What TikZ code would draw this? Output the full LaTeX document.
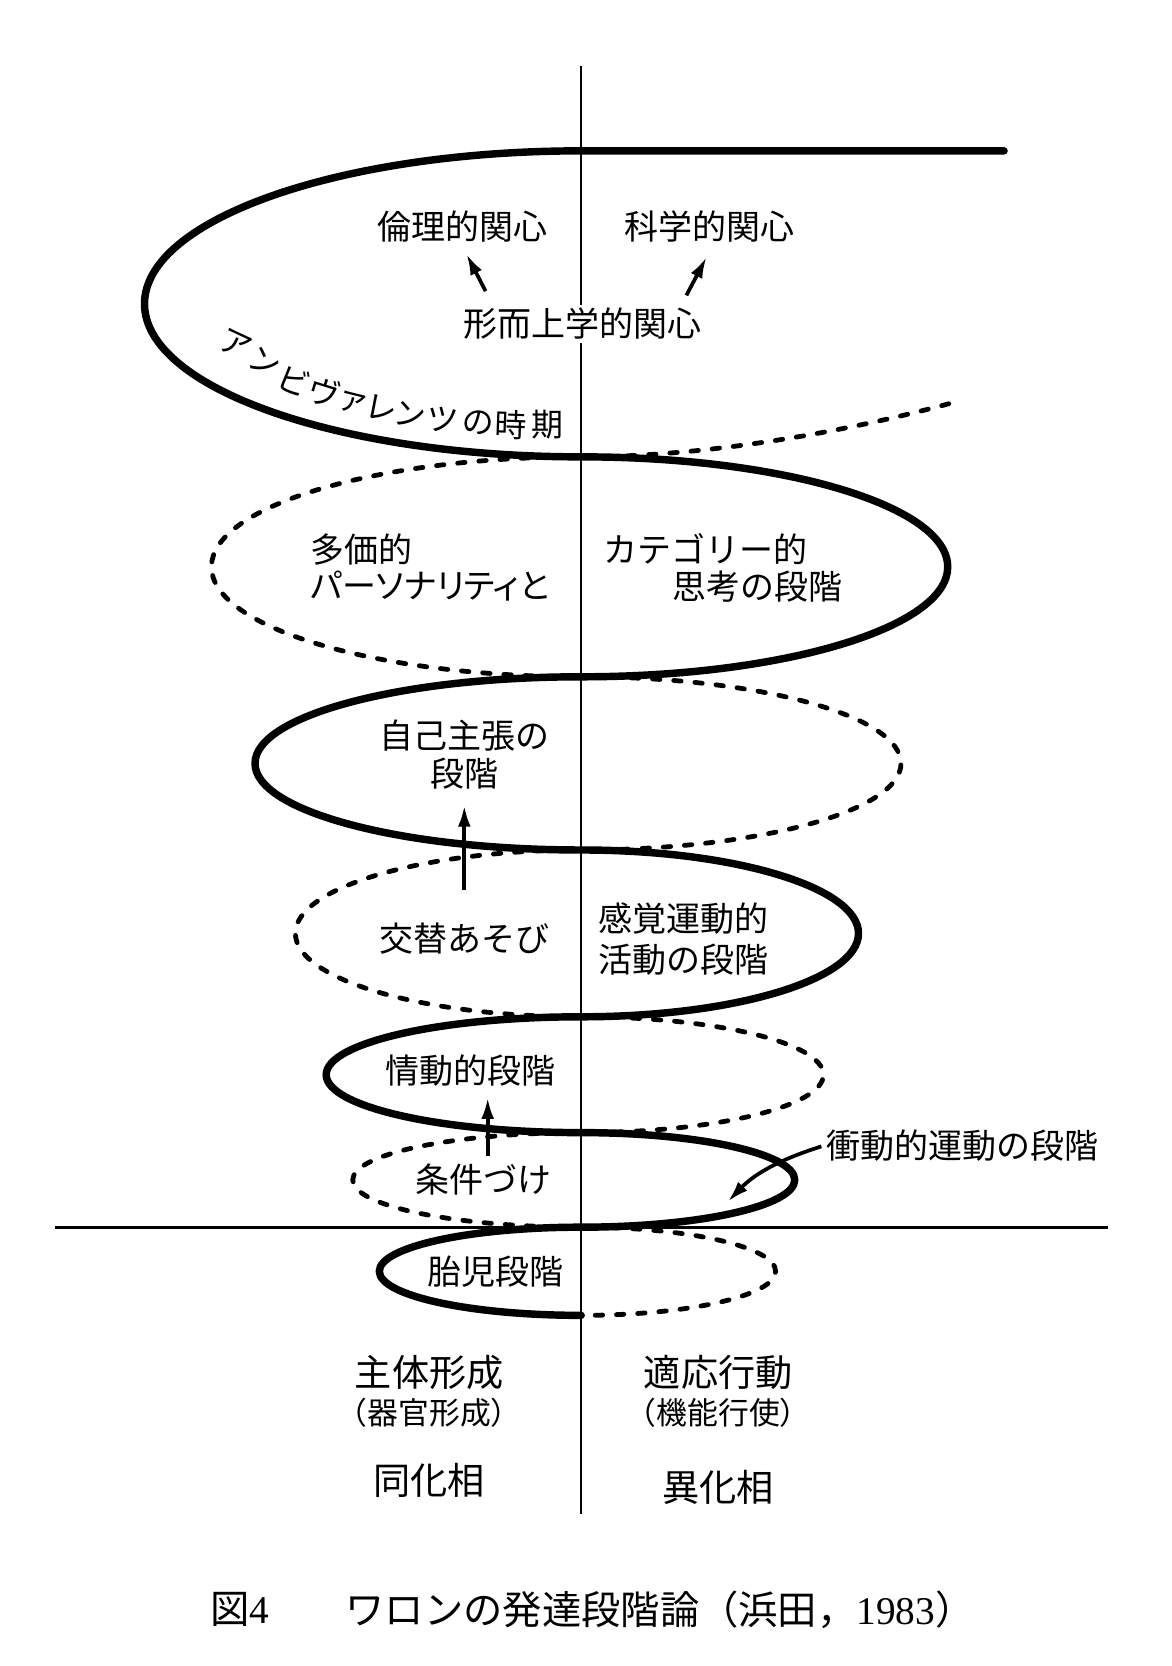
\documentclass[tikz,border=0pt]{standalone}
\usepackage{fontspec}
\setmainfont{Liberation Serif}
\newfontfamily\cjk{Noto Sans CJK JP}
\newfontfamily\cjkp[RawFeature=+palt]{Noto Sans CJK JP}
\usetikzlibrary{arrows.meta}
\begin{document}
\begin{tikzpicture}[x=1pt,y=1pt,
  front/.style={line width=7pt,line cap=round,line join=round},
  back/.style={line width=4.5pt,line cap=round,dash pattern=on 7pt off 13pt},
  lbl/.style={font=\cjk\fontsize{32}{38}\selectfont,inner sep=0pt},
  amb/.style={font=\cjkp\fontsize{30}{36}\selectfont,inner sep=0pt},
  big/.style={font=\cjk\fontsize{35}{40}\selectfont,inner sep=0pt},
  small/.style={font=\cjk\fontsize{29}{34}\selectfont,inner sep=0pt},
  capt/.style={font=\cjk\fontsize{37}{42}\selectfont,inner sep=0pt,anchor=west},
  arr/.style={line width=3.5pt,-{Latex[length=20pt,width=12pt]}},
  axisv/.style={line width=2pt},
  axish/.style={line width=3pt},
]
\fill[white] (0,0) rectangle (1103,1568);
\useasboundingbox (0,0) rectangle (1103,1568);

% axes
\coordinate (vtop) at (547,1506);
\coordinate (vbot) at (547,143);
\coordinate (hleft) at (52,413);
\coordinate (hright) at (1043,413);
\draw[axisv] (vtop) -- (vbot);
\draw[axish] (hleft) -- (hright);

% back (dashed) half of the spiral
\coordinate (dstart) at (893,1188);
\coordinate (c1) at (547,1138);
\draw[back] (dstart) .. controls (790,1160) and (660,1138) .. (c1)
  arc[start angle=90,end angle=270,x radius=348,y radius=103.5]
  arc[start angle=90,end angle=-90,x radius=301,y radius=81.5]
  arc[start angle=90,end angle=270,x radius=269,y radius=78.5]
  arc[start angle=90,end angle=-90,x radius=228,y radius=54.5]
  arc[start angle=90,end angle=270,x radius=215,y radius=44.5]
  arc[start angle=90,end angle=-90,x radius=183,y radius=41.5];

% front (solid) half of the spiral
\coordinate (tstart) at (945,1426);
\coordinate (c0) at (547,1426);
\draw[front] (tstart) -- (c0)
  arc[start angle=90,end angle=270,x radius=411,y radius=144]
  arc[start angle=90,end angle=-90,x radius=345,y radius=103.5]
  arc[start angle=90,end angle=270,x radius=307,y radius=81.5]
  arc[start angle=90,end angle=-90,x radius=261,y radius=78.5]
  arc[start angle=90,end angle=270,x radius=240,y radius=54.5]
  arc[start angle=90,end angle=-90,x radius=201,y radius=44.5]
  arc[start angle=90,end angle=270,x radius=190,y radius=41.5];

% top labels
\node[lbl] (rinri) at (435,1355) {倫理的関心};
\node[lbl] (kagaku) at (668,1355) {科学的関心};
\node[lbl,fill=white,inner sep=3pt] (keijijo) at (548,1263) {形而上学的関心};
\coordinate (ra1) at (457,1294);
\coordinate (ra2) at (439,1329);
\coordinate (ka1) at (646,1290);
\coordinate (ka2) at (665,1326);
\draw[arr] (ra1) -- (ra2);
\draw[arr] (ka1) -- (ka2);

% アンビヴァレンツの時期 along the curve
\node[amb,rotate=-25] (am1) at (222,1244) {ア};
\node[amb,rotate=-25] (am2) at (249,1227) {ン};
\node[amb,rotate=-22] (am3) at (276,1210) {ビ};
\node[amb,rotate=-17] (am4) at (305,1199) {ヴ};
\node[amb,rotate=-14] (am5) at (332,1189) {ァ};
\node[amb,rotate=-11] (am6) at (359,1184) {レ};
\node[amb,rotate=-9] (am7) at (386,1178) {ン};
\node[amb,rotate=-6] (am8) at (416,1173) {ツ};
\node[amb,rotate=-4] (am9) at (450,1170) {の};
\node[amb,rotate=-2] (am10) at (481,1168) {時};
\node[amb] (am11) at (515,1168) {期};

% middle labels
\node[lbl,anchor=west] (takachi) at (292,1051) {多価的};
\node[lbl,anchor=west,font=\cjkp\fontsize{32}{38}\selectfont] (person) at (292,1016) {パーソナリティと};
\node[lbl,anchor=west] (category) at (568,1051) {カテゴリー的};
\node[lbl,anchor=west] (shiko) at (633,1016) {思考の段階};

\node[lbl] (jiko1) at (437,876) {自己主張の};
\node[lbl] (jiko2) at (437,840) {段階};
\node[lbl] (kotai) at (437,685) {交替あそび};
\coordinate (ja1) at (437,730);
\coordinate (ja2) at (437,810);
\draw[arr] (ja1) -- (ja2);

\node[lbl,anchor=west] (kankaku1) at (563,703) {感覚運動的};
\node[lbl,anchor=west] (kankaku2) at (563,665) {活動の段階};

\node[lbl] (jodo) at (443,560) {情動的段階};
\node[lbl] (joken) at (455,458) {条件づけ};
\coordinate (jd1) at (459,480);
\coordinate (jd2) at (459,535);
\draw[arr] (jd1) -- (jd2);

\node[lbl,anchor=west] (shodo) at (778,490) {衝動的運動の段階};
\coordinate (sd1) at (773,489);
\coordinate (sd2) at (685,437);
\draw[arr] (sd1) .. controls (738,478) and (712,465) .. (sd2);

\node[lbl] (taiji) at (466,371) {胎児段階};

% bottom labels
\node[big] (shutai) at (404,276) {主体形成};
\node[small] (kikan) at (404,238) {（器官形成）};
\node[big] (tekio) at (676,276) {適応行動};
\node[small] (kino) at (676,238) {（機能行使）};
\node[big] (doka) at (404,175) {同化相};
\node[big] (ika) at (676,168) {異化相};

% caption
\node[capt] (cap1) at (198,53) {図{\rmfamily 4}};
\node[capt] (cap2) at (325,53) {ワロンの発達段階論（浜田，{\rmfamily 1983}）};
\end{tikzpicture}
\end{document}
